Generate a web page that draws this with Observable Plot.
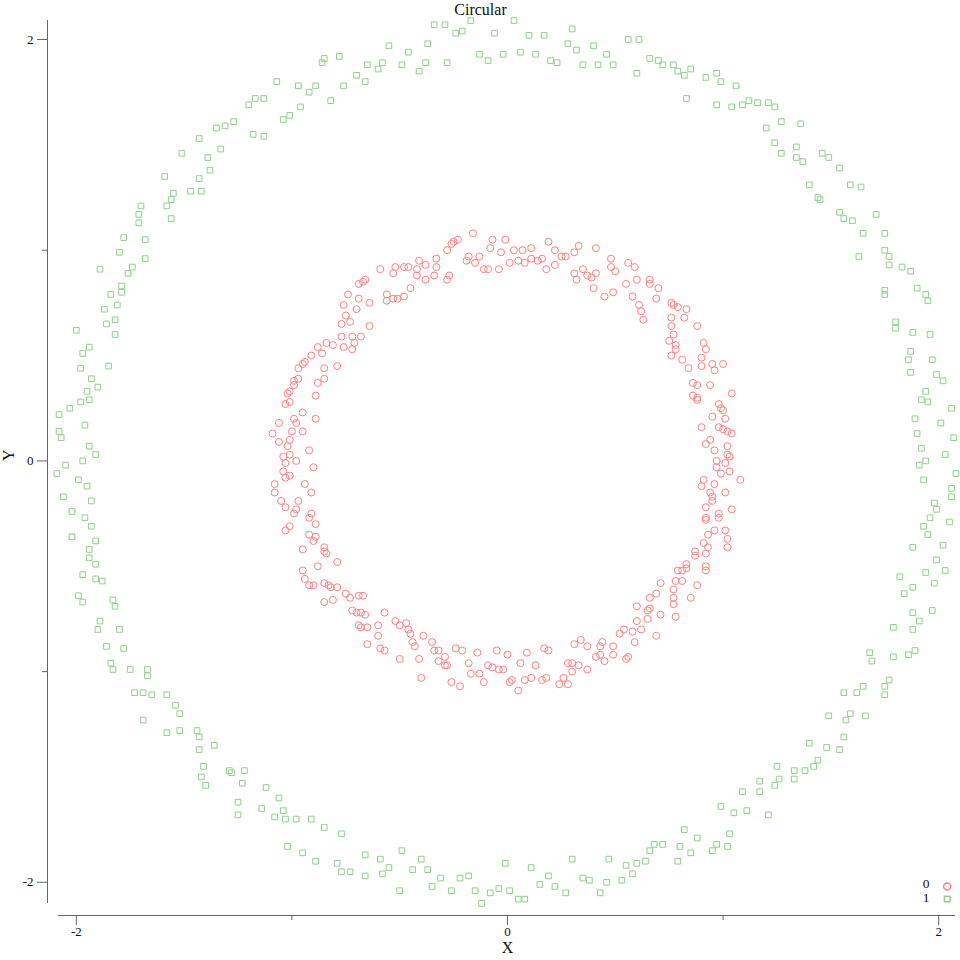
<!DOCTYPE html>
<html>
<head>
<meta charset="utf-8">
<script src="https://cdn.jsdelivr.net/npm/d3@7"></script>
<script src="https://cdn.jsdelivr.net/npm/@observablehq/plot@0.6"></script>
<style>
  html, body { margin: 0; padding: 0; background: #ffffff; }
  #chart { width: 960px; height: 960px; }
</style>
</head>
<body>
<div id="chart"></div>
<script>
const chartTitle = "Circular";
const xLabel = "X";
const yLabel = "Y";
const classLabels = ["0", "1"];
const majorTicks = [-2, 0, 2];
const minorTicks = [-1, 1];

// class 0: inner ring (circles)
const class0 = [
[-0.88,0.54],[-0.91,0.50],[-0.94,0.47],[-0.95,0.46],[-0.97,0.44],[-0.97,0.39],[-0.99,0.38],[-0.99,0.36],[-0.88,0.37],[-1.01,0.33],[-1.02,0.32],[-0.89,0.31],[-1.01,0.28],[-1.03,0.27],[-0.95,0.23],[-0.99,0.20],[-0.98,0.18],[-0.89,0.20],[-1.06,0.18],[-1.09,0.13],[-1.00,0.14],[-0.95,0.14],[-1.01,0.10],[-1.06,0.09],[-1.02,0.07],[-0.92,0.05],[-1.01,0.03],[-1.04,0.02],[-1.03,-0.01],[-0.98,0.00],[-0.90,-0.03],[-1.04,-0.05],[-1.01,-0.07],[-1.03,-0.08],[-1.08,-0.11],[-0.94,-0.11],[-1.08,-0.15],[-0.91,-0.15],[-1.05,-0.19],[-0.97,-0.19],[-1.03,-0.22],[-0.98,-0.23],[-0.99,-0.25],[-0.91,-0.25],[-0.92,-0.27],[-0.89,-0.30],[-1.01,-0.31],[-1.03,-0.33],[-0.92,-0.35],[-0.89,-0.36],[-0.90,-0.38],[-0.95,-0.42],[-0.88,-0.50],[-0.95,-0.52],[-0.94,-0.56],[-0.92,-0.59],[-0.90,-0.59],
[-0.77,0.65],[-0.73,0.66],[-0.64,0.64],[-0.77,0.59],[-0.72,0.59],[-0.68,0.59],[-0.84,0.56],[-0.81,0.55],[-0.76,0.54],[-0.72,0.53],[-0.71,0.56],[-0.86,0.51],[-0.85,0.44],[-0.79,0.45],[-0.85,0.39],[-0.85,-0.41],[-0.85,-0.43],[-0.84,-0.44],[-0.79,-0.48],[-0.85,-0.58],[-0.83,-0.59],[-0.82,-0.60],[-0.79,-0.60],[-0.85,-0.67],[-0.81,-0.66],[-0.75,-0.63],[-0.73,-0.65],[-0.69,-0.64],[-0.67,-0.64],[-0.72,-0.71],[-0.70,-0.72],[-0.68,-0.72],[-0.66,-0.73],[-0.57,-0.72],[-0.69,-0.78],[-0.68,-0.79],[-0.65,-0.79],[-0.60,-0.78],[-0.60,-0.83],[-0.52,-0.76],[-0.50,-0.78],[-0.47,-0.77],[-0.46,-0.80],[-0.45,-0.82],[-0.39,-0.83],[0.60,-0.69],[0.60,-0.76],[0.52,-0.82],[0.54,-0.80],[0.58,-0.81],[0.62,-0.80],
[-0.16,1.08],[-0.23,1.05],[-0.25,1.04],[-0.26,1.03],[-0.28,1.00],[-0.07,1.05],[-0.01,1.05],[-0.08,1.01],[-0.18,0.97],[-0.19,0.95],[-0.15,0.94],[-0.13,0.97],[-0.03,0.99],[0.03,1.00],[0.07,1.00],[0.11,1.01],[0.19,1.04],[0.22,1.00],[0.33,1.02],[0.31,0.99],[0.27,0.97],[0.25,0.97],[0.41,1.01],[0.05,0.95],[0.01,0.94],[0.08,0.94],[0.11,0.96],[0.14,0.95],[0.16,0.96],[0.22,0.93],[0.18,0.91],[-0.04,0.91],[-0.11,0.91],[-0.09,0.91],[-0.33,0.96],[-0.41,0.95],[-0.38,0.93],[-0.42,0.91],[-0.46,0.92],[-0.48,0.92],[-0.52,0.92],[-0.53,0.89],[-0.59,0.91],[-0.33,0.92],[-0.34,0.88],[-0.42,0.88],[-0.38,0.86],[-0.27,0.88],[-0.28,0.86],[-0.45,0.82],[-0.66,0.86],[-0.67,0.85],[-0.69,0.84],[-0.74,0.79],[-0.69,0.77],[-0.64,0.75],[-0.56,0.79],[-0.56,0.76],[-0.53,0.77],[-0.51,0.77],[-0.48,0.78],[-0.76,0.74],[-0.70,0.72],[-0.75,0.69],
[0.35,0.91],[0.31,0.89],[0.32,0.86],[0.37,0.88],[0.39,0.87],[0.41,0.89],[0.40,0.82],[0.45,0.78],[0.49,0.80],[0.48,0.96],[0.48,0.92],[0.50,0.90],[0.56,0.94],[0.59,0.92],[0.55,0.84],[0.60,0.86],[0.58,0.78],[0.61,0.74],[0.62,0.71],[0.66,0.86],[0.66,0.84],[0.70,0.82],[0.69,0.77],[0.76,0.75],[0.77,0.74],[0.79,0.73],[0.83,0.72],[0.76,0.68],[0.82,0.68],[0.63,0.67],
[0.76,0.64],[0.88,0.64],[0.77,0.60],[0.75,0.57],[0.78,0.55],[0.78,0.53],[0.76,0.50],[0.91,0.56],[0.92,0.53],[0.81,0.48],[0.90,0.49],[0.90,0.45],[0.84,0.44],[0.95,0.46],[1.00,0.46],[0.96,0.43],[0.86,0.37],[0.88,0.36],[0.94,0.36],[1.04,0.32],[0.86,0.31],[0.88,0.30],[0.88,0.29],[0.98,0.27],[0.99,0.25],[1.00,0.24],[0.95,0.21],[1.01,0.20],[0.90,0.16],[0.98,0.16],[1.00,0.15],[1.02,0.14],[1.04,0.13],[0.94,0.10],[0.92,0.08],[1.02,0.07],[0.96,0.05],[1.02,0.03],[1.03,0.02],[0.97,0.00],[0.97,-0.03],[1.01,-0.01],[1.03,-0.05],[0.99,-0.06],[1.08,-0.09],[0.91,-0.09],[0.90,-0.12],[0.96,-0.11],[1.01,-0.15],[0.94,-0.15],[0.95,-0.17],[0.95,-0.19],[0.92,-0.22],[1.04,-0.23],[0.98,-0.25],[0.98,-0.27],[0.92,-0.27],[0.92,-0.28],[0.96,-0.33],[1.01,-0.33],[0.93,-0.35],[1.02,-0.37],[0.91,-0.39],[0.93,-0.41],[1.02,-0.41],[0.87,-0.43],[0.87,-0.45],[0.92,-0.44],[0.83,-0.49],[0.83,-0.51],[0.79,-0.52],[0.81,-0.52],[0.92,-0.50],[0.92,-0.52],[0.78,-0.57],[0.81,-0.57],[0.71,-0.58],[0.88,-0.59],[0.77,-0.61],[0.69,-0.63],[0.66,-0.65],[0.77,-0.65],[0.85,-0.65],[0.77,-0.68],[0.65,-0.71],[0.66,-0.70],[0.71,-0.73],[0.78,-0.74],[0.65,-0.75],[0.69,-0.83],
[-0.65,-0.87],[-0.59,-0.89],[-0.57,-0.90],[-0.50,-0.94],[-0.44,-0.86],[-0.43,-0.88],[-0.41,-0.94],[-0.40,-1.03],[-0.35,-0.86],[-0.34,-0.90],[-0.32,-0.90],[-0.29,-0.93],[-0.32,-0.95],[-0.29,-0.97],[-0.28,-0.97],[-0.24,-0.89],[-0.21,-0.90],[-0.14,-0.91],[-0.18,-0.96],[-0.17,-1.01],[-0.13,-1.01],[-0.11,-1.05],[-0.26,-1.05],[-0.22,-1.07],[-0.09,-0.97],[-0.07,-0.98],[-0.04,-0.99],[-0.02,-0.99],[-0.05,-0.90],[0.00,-0.92],[0.06,-0.96],[0.09,-0.91],[0.13,-0.97],[0.01,-1.05],[0.02,-1.04],[0.05,-1.09],[0.08,-1.04],[0.11,-1.03],[0.16,-1.04],[0.18,-1.03],[0.17,-0.89],[0.19,-0.90],[0.24,-1.06],[0.28,-1.06],[0.26,-1.03],[0.30,-1.00],[0.28,-0.96],[0.30,-0.96],[0.33,-0.97],[0.31,-0.87],[0.34,-0.85],[0.37,-0.88],[0.37,-0.99],[0.41,-0.93],[0.43,-0.92],[0.45,-0.95],[0.43,-0.88],[0.44,-0.86],[0.49,-0.88],[0.49,-0.92],[0.55,-0.94],[0.56,-0.93],[0.59,-0.86]
];

// class 1: outer ring (squares)
const class1 = [
[-1.07,1.80],[-0.97,1.78],[-0.89,1.78],[-0.92,1.75],[-1.17,1.72],[-1.13,1.72],[-1.20,1.69],[-0.96,1.68],[-1.01,1.64],[-1.04,1.62],[-1.35,1.58],[-1.31,1.59],[-1.27,1.61],[-1.18,1.55],[-1.13,1.54],[-1.43,1.53],[-1.33,1.48],[-1.39,1.44],[-1.51,1.46],[-1.38,1.38],[-1.59,1.35],[-1.43,1.34],[-1.55,1.27],[-1.47,1.28],[-1.42,1.28],[-1.56,1.24],[-1.58,1.21],[-1.70,1.21],[-1.71,1.17],[-1.71,1.13],[-1.56,1.15],[-1.78,1.06],[-1.68,1.05],[-1.80,0.99],[-1.68,0.96],[-1.89,0.91],[-1.74,0.92],[-1.76,0.89],[-1.79,0.83],[-1.79,0.80],[-1.84,0.79],[-1.81,0.74],[-1.87,0.72],[-1.82,0.67],
[-1.86,0.65],[-2.00,0.62],[-1.82,0.60],[-1.94,0.54],[-1.97,0.51],[-1.98,0.44],[-1.85,0.45],[-1.93,0.39],[-1.90,0.35],[-1.95,0.33],[-1.94,0.29],[-1.98,0.28],[-2.03,0.25],[-2.08,0.22],[-1.96,0.17],[-2.08,0.14],[-2.07,0.11],[-1.94,0.07],[-1.91,0.03],[-1.97,0.00],[-2.05,-0.02],[-2.09,-0.06],[-1.99,-0.09],[-1.95,-0.12],[-2.06,-0.17],[-1.93,-0.19],[-2.02,-0.24],[-1.96,-0.27],[-1.93,-0.31],[-2.02,-0.36],[-1.91,-0.38],[-1.94,-0.42],[-1.94,-0.46],[-1.91,-0.49],[-1.97,-0.54],[-1.91,-0.56],[-1.88,-0.57],[-1.99,-0.64],[-1.97,-0.67],[-1.83,-0.66],[-1.82,-0.69],[-1.89,-0.76],[-1.90,-0.80],[-1.80,-0.80],
[-1.86,-0.88],[-1.78,-0.89],[-1.84,-0.96],[-1.83,-0.99],[-1.75,-0.99],[-1.67,-0.99],[-1.67,-1.02],[-1.73,-1.10],[-1.69,-1.10],[-1.65,-1.11],[-1.58,-1.11],[-1.54,-1.16],[-1.52,-1.20],[-1.69,-1.23],[-1.58,-1.29],[-1.52,-1.28],[-1.44,-1.28],[-1.43,-1.31],[-1.36,-1.35],[-1.43,-1.37],[-1.41,-1.45],[-1.42,-1.50],[-1.40,-1.54],[-1.29,-1.47],[-1.28,-1.48],[-1.22,-1.47],[-1.23,-1.53],[-1.12,-1.55],[-1.06,-1.60],[-1.25,-1.62],[-1.25,-1.68],[-1.14,-1.65],[-1.04,-1.66],[-1.08,-1.69],[-1.03,-1.70],[-0.98,-1.70],[-0.91,-1.70],[-1.02,-1.83],[-0.95,-1.86],[-0.89,-1.90],
[-0.85,-1.74],[-0.77,-1.77],[-0.79,-1.91],[-0.77,-1.95],[-0.73,-1.95],[-0.66,-1.87],[-0.66,-1.97],[-0.59,-1.89],[-0.58,-1.96],[-0.55,-1.93],[-0.49,-1.85],[-0.50,-2.04],[-0.44,-1.94],[-0.40,-1.89],[-0.37,-1.94],[-0.35,-2.02],[-0.31,-1.98],[-0.26,-2.04],[-0.22,-1.98],[-0.18,-1.97],[-0.15,-2.04],[-0.12,-2.10],[-0.08,-2.05],[-0.04,-2.03],[-0.01,-1.91],[0.01,-2.04],[0.05,-2.08],[0.08,-2.08],[0.11,-1.93],[0.15,-2.01],[0.19,-1.97],[0.22,-2.02],[0.27,-2.05],[0.30,-1.89],[0.35,-1.98],[0.38,-1.99],[0.43,-2.05],[0.46,-2.00],[0.47,-1.89],[0.53,-1.99],[0.55,-1.92],[0.58,-1.96],[0.60,-1.91],
[1.68,-0.91],[1.69,-0.95],[1.79,-0.93],[1.86,-0.92],[1.89,-0.90],[1.77,-1.04],[1.75,-1.07],[1.75,-1.11],[1.65,-1.07],[1.62,-1.10],[1.56,-1.10],[1.49,-1.21],[1.59,-1.20],[1.57,-1.23],[1.66,-1.21],[1.56,-1.31],[1.40,-1.34],[1.48,-1.36],[1.54,-1.37],[1.44,-1.42],[1.42,-1.45],[1.38,-1.47],[1.33,-1.47],[1.25,-1.45],[1.17,-1.52],[1.26,-1.51],[1.24,-1.54],[1.33,-1.51],[1.09,-1.57],[1.17,-1.57],[0.99,-1.64],[1.05,-1.67],[1.11,-1.66],[1.21,-1.68],[0.82,-1.75],[0.88,-1.79],[1.03,-1.77],[0.97,-1.82],[1.02,-1.83],[0.95,-1.85],[0.85,-1.86],[0.80,-1.83],[0.66,-1.85],[0.68,-1.82],[0.72,-1.82],[0.64,-1.90],[0.79,-1.90],
[1.80,0.66],[1.80,0.63],[1.88,0.61],[1.96,0.60],[1.87,0.52],[1.86,0.48],[1.97,0.48],[1.87,0.42],[1.99,0.41],[2.02,0.38],[1.94,0.33],[1.92,0.29],[1.95,0.28],[2.06,0.25],[1.89,0.20],[2.01,0.18],[1.90,0.13],[2.07,0.11],[1.92,0.06],[2.03,0.03],[1.94,0.00],[1.91,-0.02],[2.08,-0.06],[1.93,-0.09],[2.06,-0.13],[2.06,-0.17],[1.98,-0.20],[1.99,-0.23],[1.96,-0.27],[2.05,-0.29],[1.93,-0.31],[1.95,-0.35],[2.02,-0.40],[1.88,-0.41],[1.99,-0.47],[2.03,-0.52],[1.94,-0.53],[1.82,-0.55],[1.98,-0.58],[1.88,-0.60],[1.84,-0.63],[1.88,-0.72],[1.97,-0.71],[1.91,-0.76],[1.79,-0.79],[1.88,-0.80],
[0.61,2.00],[0.66,1.91],[0.70,1.90],[0.72,1.88],[0.77,1.88],[0.79,1.85],[0.82,1.83],[0.85,1.86],[0.92,1.82],[0.97,1.84],[0.99,1.80],[1.06,1.78],[0.83,1.72],[0.97,1.69],[1.04,1.68],[1.09,1.69],[1.12,1.71],[1.16,1.70],[1.21,1.70],[1.24,1.68],[1.27,1.61],[1.36,1.60],[1.20,1.58],[1.24,1.51],[1.34,1.49],[1.27,1.46],[1.34,1.44],[1.37,1.42],[1.46,1.46],[1.49,1.44],[1.54,1.39],[1.40,1.31],[1.44,1.25],[1.45,1.24],[1.59,1.31],[1.64,1.30],[1.54,1.18],[1.56,1.15],[1.60,1.14],[1.71,1.17],[1.65,1.08],[1.75,1.08],[1.75,1.00],[1.77,0.97],[1.77,0.93],[1.63,0.97],[1.83,0.92],[1.87,0.90],[1.90,0.82],[1.94,0.79],[1.95,0.76],[1.75,0.81],[1.75,0.79],
[-0.86,1.89],[-0.85,1.91],[-0.78,1.92],[-0.82,1.71],[-0.76,1.78],[-0.70,1.83],[-0.66,1.80],[-0.65,1.88],[-0.60,1.86],[-0.58,1.89],[-0.55,1.97],[-0.49,1.88],[-0.46,1.94],[-0.41,1.85],[-0.38,1.89],[-0.37,1.98],[-0.34,2.07],[-0.29,2.07],[-0.28,1.89],[-0.24,2.03],[-0.21,2.04],[-0.17,2.09],[-0.13,1.93],[-0.09,1.90],[-0.06,2.03],[-0.02,1.93],[0.03,2.09],[0.06,1.94],[0.10,2.02],[0.13,1.93],[0.17,2.02],[0.20,1.90],[0.23,1.89],[0.28,1.98],[0.30,2.05],[0.32,1.95],[0.35,1.88],[0.40,1.97],[0.42,1.88],[0.46,1.93],[0.49,1.88],[0.56,2.00],[0.60,1.84]
];

// ---- rendering ----
const colors = {"0": "#ff8080", "1": "#8fd18a"};
const axisColor = "#666666";
const textColor = "#111111";
const serif = "'Liberation Serif', 'Times New Roman', Times, serif";

const xDomain = [-2.1336, 2.078];
const yDomain = [-2.1576, 2.0902];
const xAxisStart = -2.082;   // offset axis: line starts just left of -2
const yAxisEnd = -2.1006;    // offset axis: line ends just below -2

const pts0 = class0.map(([x, y]) => ({x, y, cls: classLabels[0]}));
const pts1 = class1.map(([x, y]) => ({x, y, cls: classLabels[1]}));

const chart = Plot.plot({
  width: 960,
  height: 960,
  marginLeft: 47,
  marginRight: 5,
  marginTop: 20,
  marginBottom: 45,
  x: {domain: xDomain},
  y: {domain: yDomain},
  style: {fontFamily: serif, fontSize: "13px", color: textColor, background: "#ffffff", overflow: "visible"},
  marks: [
    // offset axis lines
    Plot.ruleY([yDomain[0]], {x1: xAxisStart, x2: xDomain[1], stroke: axisColor}),
    Plot.ruleX([xDomain[0]], {y1: yAxisEnd, y2: yDomain[1], stroke: axisColor}),
    // x axis ticks
    Plot.axisX(majorTicks, {anchor: "bottom", tickSize: 10, tickPadding: 1, tickFormat: d => String(d), label: null, stroke: axisColor, fill: textColor, fontSize: 13}),
    Plot.axisX(minorTicks, {anchor: "bottom", tickSize: 5, tickFormat: () => "", label: null, stroke: axisColor}),
    // y axis ticks
    Plot.axisY(majorTicks, {anchor: "left", tickSize: 10, tickPadding: 4, tickFormat: d => String(d), label: null, stroke: axisColor, fill: textColor, fontSize: 13}),
    Plot.axisY(minorTicks, {anchor: "left", tickSize: 5, tickFormat: () => "", label: null, stroke: axisColor}),
    // axis labels
    Plot.text([{t: xLabel, v: 0}], {x: "v", text: "t", frameAnchor: "bottom", dy: 37, fontSize: 16, fill: textColor}),
    Plot.text([{t: yLabel, v: 0}], {y: "v", text: "t", frameAnchor: "left", dx: -39, rotate: -90, fontSize: 16, fill: textColor}),
    // title
    Plot.text([chartTitle], {frameAnchor: "top", dx: -21, dy: -17, fontSize: 16, fill: textColor}),
    // data
    Plot.dot(pts0, {x: "x", y: "y", r: 3.5, symbol: "circle", stroke: colors["0"], strokeWidth: 1, fill: "none"}),
    Plot.dot(pts1, {x: "x", y: "y", r: 3.2, symbol: "square", stroke: colors["1"], strokeWidth: 1, fill: "none"}),
    // legend (bottom-right)
    Plot.text([classLabels[0]], {frameAnchor: "bottom-right", textAnchor: "end", dx: -26, dy: -28, fontSize: 13.5, fill: textColor}),
    Plot.text([classLabels[1]], {frameAnchor: "bottom-right", textAnchor: "end", dx: -26, dy: -14, fontSize: 13.5, fill: textColor}),
    Plot.dot([classLabels[0]], {frameAnchor: "bottom-right", dx: -8.3, dy: -29, r: 3.5, symbol: "circle", stroke: colors["0"], fill: "none"}),
    Plot.dot([classLabels[1]], {frameAnchor: "bottom-right", dx: -8.3, dy: -16.5, r: 3.2, symbol: "square", stroke: colors["1"], fill: "none"})
  ]
});
document.getElementById("chart").appendChild(chart);
</script>
</body>
</html>
